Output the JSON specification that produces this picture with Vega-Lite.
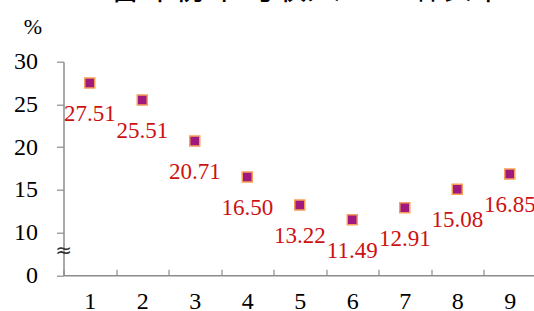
{
  "$schema": "https://vega.github.io/schema/vega-lite/v6.json",
  "autosize": {"type": "none"},
  "width": 472.5,
  "height": 213.6,
  "padding": {"left": 63.5, "top": 61.7, "right": 0, "bottom": 35.7},
  "background": "white",
  "title": {
    "text": "各年份平均收入　　增长率",
    "font": "Noto Sans CJK SC",
    "fontSize": 33,
    "fontWeight": "normal",
    "color": "#000000",
    "baseline": "alphabetic",
    "offset": -16,
    "dx": 7
  },
  "config": {
    "view": {"stroke": null},
    "axis": {"domainColor": "#8c8c8c", "tickColor": "#8c8c8c", "grid": false}
  },
  "datasets": {
    "points": [
      {"n": "1", "v": 27.51, "label": "27.51"},
      {"n": "2", "v": 25.51, "label": "25.51"},
      {"n": "3", "v": 20.71, "label": "20.71"},
      {"n": "4", "v": 16.50, "label": "16.50"},
      {"n": "5", "v": 13.22, "label": "13.22"},
      {"n": "6", "v": 11.49, "label": "11.49"},
      {"n": "7", "v": 12.91, "label": "12.91"},
      {"n": "8", "v": 15.08, "label": "15.08"},
      {"n": "9", "v": 16.85, "label": "16.85"}
    ],
    "brk": [{"n": "1", "v": 7.8, "sym": "≈"}]
  },
  "layer": [
    {
      "data": {"name": "points"},
      "mark": {"type": "point", "shape": "square", "filled": true, "size": 100, "fill": "#A0197F", "stroke": "#F5A05A", "strokeWidth": 1.5, "opacity": 1},
      "encoding": {
        "x": {"field": "n", "type": "ordinal", "scale": {"paddingInner": 0, "paddingOuter": 0},
          "axis": {"title": null, "labelAngle": 0, "labelFont": "Liberation Serif", "labelColor": "#000000", "labelFontSize": 24, "tickBand": "extent", "tickSize": -6, "labelPadding": 20, "domainWidth": 1.5, "tickWidth": 1.2}},
        "y": {"field": "v", "type": "quantitative", "scale": {"domain": [5, 30], "nice": false, "zero": false},
          "axis": {"values": [5, 10, 15, 20, 25, 30], "labelExpr": "datum.value == 5 ? '0' : datum.label", "labelFont": "Liberation Serif", "labelColor": "#000000", "labelFontSize": 24, "tickSize": 7, "labelPadding": 19, "domainWidth": 1.5, "tickWidth": 1.2,
            "title": "%", "titleFont": "Liberation Serif", "titleColor": "#000000", "titleAngle": 0, "titleFontSize": 22, "titleFontWeight": "normal", "titleAlign": "center", "titleBaseline": "middle", "titleX": -31, "titleY": -35}}
      }
    },
    {
      "data": {"name": "points"},
      "mark": {"type": "text", "font": "Liberation Serif", "fontSize": 23, "color": "#CC1111", "dy": 31, "baseline": "middle", "align": "center"},
      "encoding": {
        "x": {"field": "n", "type": "ordinal"},
        "y": {"field": "v", "type": "quantitative"},
        "text": {"field": "label"}
      }
    },
    {
      "data": {"name": "brk"},
      "mark": {"type": "text", "font": "DejaVu Sans", "fontSize": 20, "color": "#333333", "baseline": "middle", "align": "center"},
      "encoding": {
        "x": {"field": "n", "type": "ordinal", "bandPosition": 0},
        "y": {"field": "v", "type": "quantitative"},
        "text": {"field": "sym"}
      }
    }
  ]
}
